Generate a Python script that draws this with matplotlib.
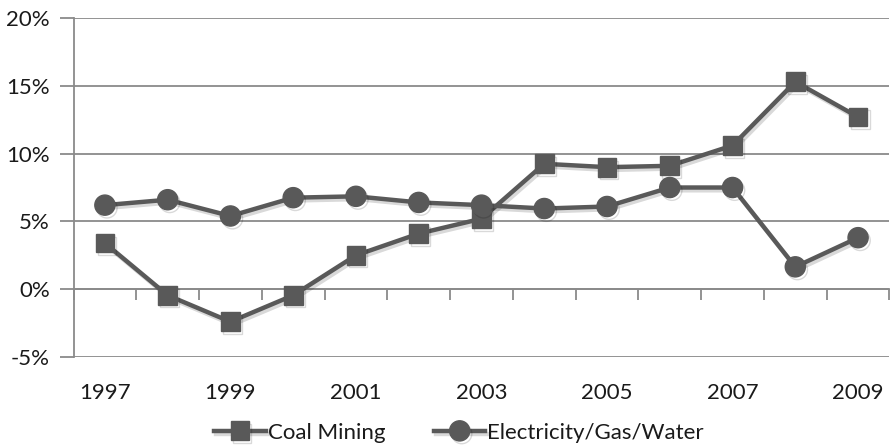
import numpy as np
import matplotlib
matplotlib.use('Agg')
import matplotlib.pyplot as plt
import matplotlib.patheffects as pe
from matplotlib.ticker import FuncFormatter

plt.rcParams['font.family'] = ['Lato', 'DejaVu Sans']

years = np.arange(1997, 2010)
year_labels = ['1997', '1999', '2001', '2003', '2005', '2007', '2009']
coal_mining = [3.4, -0.45, -2.4, -0.45, 2.5, 4.1, 5.2,
               9.25, 9.0, 9.1, 10.6, 15.3, 12.7]
elec_gas_water = [6.2, 6.6, 5.4, 6.75, 6.85, 6.4, 6.2,
                  5.95, 6.1, 7.5, 7.5, 1.65, 3.8]

line_col = '#595959'
grid_col = '#8a8a8a'
txt_col = '#1a1a1a'

fig = plt.figure(figsize=(8.9, 4.47), dpi=100)
ax = fig.add_axes([0.0826, 0.2013, 0.9168, 0.7584])

shadow = [pe.SimpleLineShadow(offset=(1.5, -2), shadow_color='k', alpha=0.15),
          pe.Normal()]

l1, = ax.plot(years, coal_mining, color=line_col, lw=3.2, marker='s', ms=13.5,
              mec=line_col, mfc=line_col, label='Coal Mining',
              path_effects=shadow, zorder=4)
l2, = ax.plot(years, elec_gas_water, color=line_col, lw=3.2, marker='o', ms=14.5,
              mec=line_col, mfc=line_col, label='Electricity/Gas/Water',
              path_effects=shadow, zorder=5)

ax.set_xlim(1996.5, 2009.5)
ax.set_ylim(-5, 20)
ax.set_yticks(np.arange(-5, 21, 5))
ax.yaxis.set_major_formatter(FuncFormatter(lambda v, p: '%d%%' % v))
ax.yaxis.grid(True, color=grid_col, lw=1.3)
ax.set_axisbelow(True)
ax.tick_params(axis='y', length=10, width=1.3, color=grid_col,
               labelsize=16, labelcolor=txt_col, pad=7)

for s in ['top', 'right']:
    ax.spines[s].set_visible(False)
ax.spines['left'].set_color(grid_col)
ax.spines['left'].set_linewidth(1.3)

# category axis crosses at 0, ticks between categories
ax.spines['bottom'].set_position(('data', 0))
ax.spines['bottom'].set_color(grid_col)
ax.spines['bottom'].set_linewidth(1.3)
ax.set_xticks(np.arange(1996.5, 2010, 1.0))
ax.tick_params(axis='x', length=8, width=1.3, color=grid_col,
               labelbottom=False, direction='out')

# year labels sit below the plot area
sec = ax.secondary_xaxis(0.0)
sec.set_xticks(years[::2])
sec.set_xticklabels(year_labels)
sec.tick_params(length=0, labelsize=16, labelcolor=txt_col, pad=19)
sec.spines['bottom'].set_visible(False)

fig.legend(handles=[l1, l2], loc='lower center', ncol=2,
           bbox_to_anchor=(0.516, -0.035), frameon=False, fontsize=16,
           handlelength=2.3, columnspacing=2.2, handletextpad=0.1,
           labelcolor=txt_col)

fig.savefig('out.png', dpi=100, facecolor='white')
